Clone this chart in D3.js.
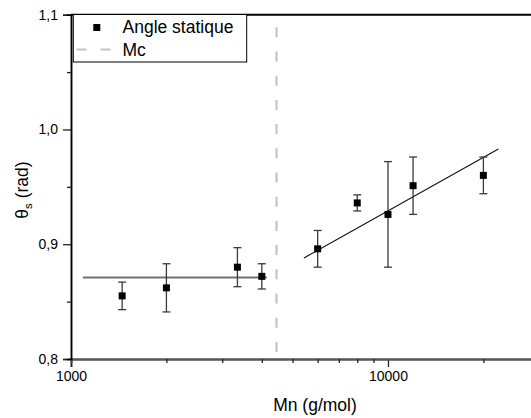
<!DOCTYPE html>
<html><head><meta charset="utf-8">
<script src="https://cdn.jsdelivr.net/npm/d3@7"></script>
<style>body{margin:0;background:#fff}svg{display:block;font-family:"Liberation Sans",Arial,sans-serif}</style>
</head><body><svg id="c" width="531" height="418"></svg>
<script>
const mn = [1450, 2000, 3350, 4000, 6000, 8000, 10000, 12000, 20000];
const theta = [0.855, 0.862, 0.880, 0.872, 0.896, 0.936, 0.926, 0.951, 0.960];
const err = [0.012, 0.021, 0.017, 0.011, 0.016, 0.007, 0.046, 0.025, 0.016];
const fitLowX = [1090, 4145], fitLowY = [0.871, 0.871];
const fitHighX = [5430, 22300], fitHighY = [0.888, 0.983];
const mc = 4450;
const xMajor = [1000, 10000], xMajorLabels = ["1000", "10000"];
const xMinor = [2000,3000,4000,5000,6000,7000,8000,9000,20000,30000];
const yMajor = [0.8, 0.9, 1.0, 1.1], yMajorLabels = ["0,8","0,9","1,0","1,1"];
const yMinor = [0.85, 0.95, 1.05];

const svg = d3.select("#c");
const x = d3.scaleLog().domain([1000, 30000]).range([71, 539.2]);
const y = d3.scaleLinear().domain([0.8, 1.1]).range([359, 14.7]);

// Mc dashed line
svg.append("line").attr("x1", x(mc)).attr("x2", x(mc)).attr("y1", y(1.1)+12.6).attr("y2", y(0.8))
  .attr("stroke", "#c4c4c4").attr("stroke-width", 2.2).attr("stroke-dasharray", "10,14.2");

// fits
const line = d3.line().x(d => x(d[0])).y(d => y(d[1]));
svg.append("path").attr("d", line(fitLowX.map((v,i)=>[v, fitLowY[i]])))
  .attr("stroke", "#707070").attr("stroke-width", 1.8).attr("fill", "none");
svg.append("path").attr("d", line(fitHighX.map((v,i)=>[v, fitHighY[i]])))
  .attr("stroke", "#111").attr("stroke-width", 1.1).attr("fill", "none");

// error bars
const eb = svg.append("g").attr("stroke", "#3a3a3a").attr("stroke-width", 1.3);
mn.forEach((m, i) => {
  const cx = x(m), t = y(theta[i] + err[i]), b = y(theta[i] - err[i]);
  eb.append("line").attr("x1", cx).attr("x2", cx).attr("y1", t).attr("y2", b);
  eb.append("line").attr("x1", cx-4).attr("x2", cx+4).attr("y1", t).attr("y2", t);
  eb.append("line").attr("x1", cx-4).attr("x2", cx+4).attr("y1", b).attr("y2", b);
});
// markers
svg.append("g").selectAll("rect").data(mn).join("rect")
  .attr("x", (d) => x(d) - 3.5).attr("y", (d,i) => y(theta[i]) - 3.5)
  .attr("width", 7).attr("height", 7).attr("fill", "#000");

// axes
const xAxis = svg.append("g").attr("transform", `translate(0,${y(0.8)})`)
  .call(d3.axisBottom(x).tickValues(xMajor).tickFormat((d,i)=>xMajorLabels[i]).tickSize(8).tickPadding(4));
const xAxisMinor = svg.append("g").attr("transform", `translate(0,${y(0.8)})`)
  .call(d3.axisBottom(x).tickValues(xMinor).tickFormat("").tickSize(4));
[xAxis, xAxisMinor].forEach(g => {
  g.select(".domain").attr("stroke", "#555").attr("stroke-width", 2);
  g.selectAll(".tick line").attr("stroke", "#222").attr("stroke-width", 1.3);
});
xAxis.selectAll("text").attr("font-size", 14).attr("fill", "#000").attr("font-family", "Liberation Sans, Arial, sans-serif");

const yAxis = svg.append("g").attr("transform", `translate(71,0)`)
  .call(d3.axisLeft(y).tickValues(yMajor).tickFormat((d,i)=>yMajorLabels[i]).tickSize(8).tickPadding(5));
const yAxisMinor = svg.append("g").attr("transform", `translate(71,0)`)
  .call(d3.axisLeft(y).tickValues(yMinor).tickFormat("").tickSize(4));
[yAxis, yAxisMinor].forEach(g => {
  g.select(".domain").attr("stroke", "#000").attr("stroke-width", 1.5);
  g.selectAll(".tick line").attr("stroke", "#222").attr("stroke-width", 1.3);
});
yAxis.selectAll("text").attr("font-size", 14).attr("fill", "#000").attr("font-family", "Liberation Sans, Arial, sans-serif");

// top border
svg.append("line").attr("x1", 71).attr("x2", 539).attr("y1", y(1.1)).attr("y2", y(1.1))
  .attr("stroke", "#000").attr("stroke-width", 2);

// axis titles
svg.append("text").attr("x", 315).attr("y", 411).attr("text-anchor", "middle")
  .attr("font-size", 17.5).text("Mn (g/mol)");
const yt = svg.append("text").attr("transform", "translate(28,190) rotate(-90)").attr("text-anchor", "middle")
  .attr("font-size", 17.5);
yt.append("tspan").text("θ");
yt.append("tspan").attr("font-size", 11.5).attr("dy", 4).text("s");
yt.append("tspan").attr("dy", -4).text(" (rad)");

// legend
const lg = svg.append("g");
lg.append("rect").attr("x", 73.3).attr("y", 14.5).attr("width", 173.4).attr("height", 47.5)
  .attr("fill", "#fff").attr("stroke", "#000").attr("stroke-width", 1);
lg.append("rect").attr("x", 93.3).attr("y", 24).attr("width", 7).attr("height", 7).attr("fill", "#000");
lg.append("text").attr("x", 122.5).attr("y", 33).attr("font-size", 17.5).text("Angle statique");
lg.append("line").attr("x1", 76.5).attr("x2", 111).attr("y1", 49.5).attr("y2", 49.5)
  .attr("stroke", "#c4c4c4").attr("stroke-width", 2.2).attr("stroke-dasharray", "10,14");
lg.append("text").attr("x", 122.5).attr("y", 55.5).attr("font-size", 17.5).text("Mc");
</script></body></html>
